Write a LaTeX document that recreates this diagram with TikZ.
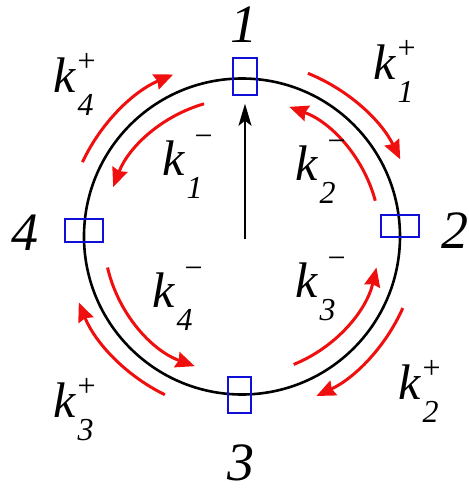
\documentclass[tikz,border=0pt]{standalone}
\usepackage{fontspec}
\setmainfont{Liberation Serif}
\usetikzlibrary{arrows.meta}
\definecolor{arcred}{RGB}{240,15,15}
\definecolor{boxblue}{RGB}{15,15,215}
\newcommand{\kp}[1]{\textit{k}\kern1.5pt\rlap{\raisebox{20.5pt}{\fontsize{32}{32}\selectfont +}}\raisebox{-23pt}{\fontsize{32}{32}\selectfont\textit{#1}}}
\newcommand{\km}[1]{\textit{k}\kern1.5pt\rlap{\kern8pt\raisebox{29pt}{\fontsize{32}{32}\selectfont\char"2212}}\raisebox{-23pt}{\fontsize{32}{32}\selectfont\textit{#1}}}
\tikzset{
  site/.style={draw=boxblue, line width=2.4pt, inner sep=0pt, outer sep=0pt},
  vsite/.style={site, minimum width=23.5pt, minimum height=36.5pt},
  hsite/.style={site, minimum width=37.5pt, minimum height=22.5pt},
  num/.style={font=\fontsize{54}{54}\selectfont\itshape, inner sep=0pt},
  klabel/.style={font=\fontsize{50}{50}\selectfont, inner sep=0pt, anchor=base west},
  rate/.style={draw=arcred, line width=3pt, -{Stealth[length=19pt,width=16pt,inset=2pt]}},
}
\begin{document}
\begin{tikzpicture}[x=1pt,y=1pt]
\useasboundingbox (-242,-254.5) rectangle (227,236.5);
\coordinate (c) at (0,0);
\draw[line width=2.6pt] (c) circle[radius=158];
% sites
\node[vsite] (s1) at (3,160) {};
\node[hsite] (s2) at (158,10.5) {};
\node[vsite] (s3) at (-2.5,-158.5) {};
\node[hsite] (s4) at (-158,6) {};
% site numbers
\node[num] (n1) at (2.5,212) {1};
\node[num] (n2) at (213.5,5.5) {2};
\node[num] (n3) at (-1,-226) {3};
\node[num] (n4) at (-217,4) {4};
% black arrow
\coordinate (a0) at (3,-2);
\draw[line width=2.3pt, -{Stealth[length=22pt,width=13pt,inset=5pt]}, shorten >=9pt] (a0) -- (a0 |- s1.south);
% red rate arcs
\draw[rate] (68:176) arc[start angle=68, end angle=26, radius=176];
\draw[rate] (15:138) arc[start angle=15, end angle=70, radius=138];
\draw[rate] (155:176) arc[start angle=155, end angle=113, radius=176];
\draw[rate] (106:138) arc[start angle=106, end angle=159, radius=138];
\draw[rate] (193:138) arc[start angle=193, end angle=250, radius=138];
\draw[rate] (244:176) arc[start angle=244, end angle=202, radius=176];
\draw[rate] (292:138) arc[start angle=292, end angle=347, radius=138];
\draw[rate] (336:176) arc[start angle=336, end angle=295, radius=176];
% rate labels
\node[klabel] (k4p) at (-189,144.5) {\kp{4}};
\node[klabel] (k1m) at (-80,61.5) {\km{1}};
\node[klabel] (k1p) at (131,157.5) {\kp{1}};
\node[klabel] (k2m) at (53,56.5) {\km{2}};
\node[klabel] (k4m) at (-90,-70.5) {\km{4}};
\node[klabel] (k3p) at (-189,-180.5) {\kp{3}};
\node[klabel] (k3m) at (53,-60.5) {\km{3}};
\node[klabel] (k2p) at (156,-162.5) {\kp{2}};
\end{tikzpicture}
\end{document}
